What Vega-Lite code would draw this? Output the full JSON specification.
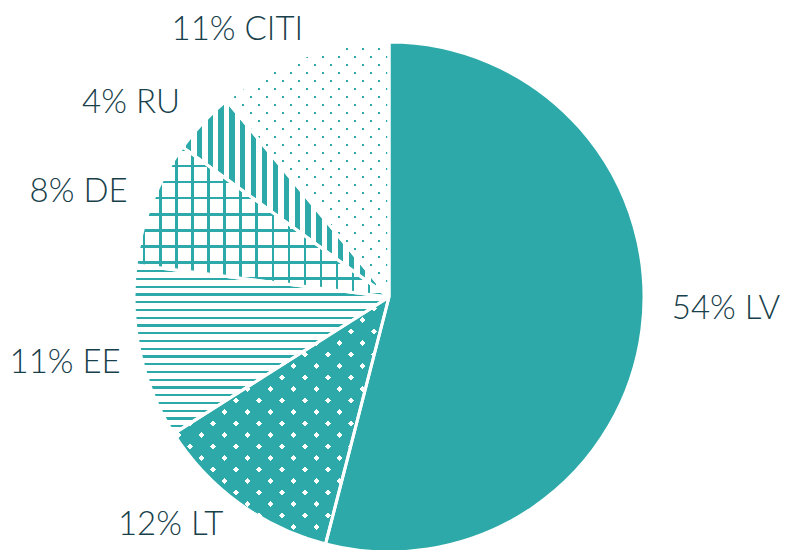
{
"$schema": "https://vega.github.io/schema/vega-lite/v6.json",
"width": 778, "height": 594, "padding": {"left": 0, "top": 0, "right": 14, "bottom": 0}, "autosize": {"type": "none"},
"background": "#ffffff",
"config": {"view": {"stroke": null}, "text": {"font": "Lato", "fontSize": 33, "fontWeight": 300, "color": "#17404a", "baseline": "middle", "radius": 280}},
"data": {"values": [
 {"label": "LV", "pct": 54, "order": 1, "name": "54% LV"},
 {"label": "LT", "pct": 12, "order": 2, "name": "12% LT"},
 {"label": "EE", "pct": 11, "order": 3, "name": "11% EE"},
 {"label": "DE", "pct": 8, "order": 4, "name": "8% DE"},
 {"label": "RU", "pct": 4, "order": 5, "name": "4% RU"},
 {"label": "CITI", "pct": 11, "order": 6, "name": "11% CITI"}
]},
"transform": [{"stack": "pct", "groupby": [], "sort": [{"field": "order", "order": "ascending"}], "as": ["start", "end"]}],
"layer": [
 {"mark": {"type": "arc", "outerRadius": 255},
  "encoding": {"theta": {"field": "start", "type": "quantitative", "scale": {"domain": [0, 100]}}, "theta2": {"field": "end"},
   "color": {"field": "label", "type": "nominal", "scale": {"domain": ["LV", "LT", "EE", "DE", "RU", "CITI"], "range": ["#2ca9a8", "#ffffff", "#ffffff", "#ffffff", "#ffffff", "#2ca9a8"]}, "legend": null}}},
 {"transform": [{"filter": "datum.label == 'EE'"}],
  "mark": {"type": "arc", "outerRadius": 255, "fill": {"gradient": "linear", "x1": 0, "y1": 0, "x2": 0, "y2": 1, "stops": [
   {"offset": 0.0297, "color": "#2ca9a800"}, {"offset": 0.0297, "color": "#2ca9a8"}, {"offset": 0.0433, "color": "#2ca9a8"}, {"offset": 0.0433, "color": "#2ca9a800"},
   {"offset": 0.0756, "color": "#2ca9a800"}, {"offset": 0.0756, "color": "#2ca9a8"}, {"offset": 0.0893, "color": "#2ca9a8"}, {"offset": 0.0893, "color": "#2ca9a800"},
   {"offset": 0.1216, "color": "#2ca9a800"}, {"offset": 0.1216, "color": "#2ca9a8"}, {"offset": 0.1352, "color": "#2ca9a8"}, {"offset": 0.1352, "color": "#2ca9a800"},
   {"offset": 0.1676, "color": "#2ca9a800"}, {"offset": 0.1676, "color": "#2ca9a8"}, {"offset": 0.1812, "color": "#2ca9a8"}, {"offset": 0.1812, "color": "#2ca9a800"},
   {"offset": 0.2135, "color": "#2ca9a800"}, {"offset": 0.2135, "color": "#2ca9a8"}, {"offset": 0.2272, "color": "#2ca9a8"}, {"offset": 0.2272, "color": "#2ca9a800"},
   {"offset": 0.2595, "color": "#2ca9a800"}, {"offset": 0.2595, "color": "#2ca9a8"}, {"offset": 0.2731, "color": "#2ca9a8"}, {"offset": 0.2731, "color": "#2ca9a800"},
   {"offset": 0.3055, "color": "#2ca9a800"}, {"offset": 0.3055, "color": "#2ca9a8"}, {"offset": 0.3191, "color": "#2ca9a8"}, {"offset": 0.3191, "color": "#2ca9a800"},
   {"offset": 0.3514, "color": "#2ca9a800"}, {"offset": 0.3514, "color": "#2ca9a8"}, {"offset": 0.3651, "color": "#2ca9a8"}, {"offset": 0.3651, "color": "#2ca9a800"},
   {"offset": 0.3974, "color": "#2ca9a800"}, {"offset": 0.3974, "color": "#2ca9a8"}, {"offset": 0.4110, "color": "#2ca9a8"}, {"offset": 0.4110, "color": "#2ca9a800"},
   {"offset": 0.4434, "color": "#2ca9a800"}, {"offset": 0.4434, "color": "#2ca9a8"}, {"offset": 0.4570, "color": "#2ca9a8"}, {"offset": 0.4570, "color": "#2ca9a800"},
   {"offset": 0.4893, "color": "#2ca9a800"}, {"offset": 0.4893, "color": "#2ca9a8"}, {"offset": 0.5030, "color": "#2ca9a8"}, {"offset": 0.5030, "color": "#2ca9a800"},
   {"offset": 0.5353, "color": "#2ca9a800"}, {"offset": 0.5353, "color": "#2ca9a8"}, {"offset": 0.5489, "color": "#2ca9a8"}, {"offset": 0.5489, "color": "#2ca9a800"},
   {"offset": 0.5813, "color": "#2ca9a800"}, {"offset": 0.5813, "color": "#2ca9a8"}, {"offset": 0.5949, "color": "#2ca9a8"}, {"offset": 0.5949, "color": "#2ca9a800"},
   {"offset": 0.6272, "color": "#2ca9a800"}, {"offset": 0.6272, "color": "#2ca9a8"}, {"offset": 0.6409, "color": "#2ca9a8"}, {"offset": 0.6409, "color": "#2ca9a800"},
   {"offset": 0.6732, "color": "#2ca9a800"}, {"offset": 0.6732, "color": "#2ca9a8"}, {"offset": 0.6868, "color": "#2ca9a8"}, {"offset": 0.6868, "color": "#2ca9a800"},
   {"offset": 0.7192, "color": "#2ca9a800"}, {"offset": 0.7192, "color": "#2ca9a8"}, {"offset": 0.7328, "color": "#2ca9a8"}, {"offset": 0.7328, "color": "#2ca9a800"},
   {"offset": 0.7651, "color": "#2ca9a800"}, {"offset": 0.7651, "color": "#2ca9a8"}, {"offset": 0.7788, "color": "#2ca9a8"}, {"offset": 0.7788, "color": "#2ca9a800"},
   {"offset": 0.8111, "color": "#2ca9a800"}, {"offset": 0.8111, "color": "#2ca9a8"}, {"offset": 0.8247, "color": "#2ca9a8"}, {"offset": 0.8247, "color": "#2ca9a800"},
   {"offset": 0.8571, "color": "#2ca9a800"}, {"offset": 0.8571, "color": "#2ca9a8"}, {"offset": 0.8707, "color": "#2ca9a8"}, {"offset": 0.8707, "color": "#2ca9a800"},
   {"offset": 0.9030, "color": "#2ca9a800"}, {"offset": 0.9030, "color": "#2ca9a8"}, {"offset": 0.9167, "color": "#2ca9a8"}, {"offset": 0.9167, "color": "#2ca9a800"},
   {"offset": 0.9490, "color": "#2ca9a800"}, {"offset": 0.9490, "color": "#2ca9a8"}, {"offset": 0.9626, "color": "#2ca9a8"}, {"offset": 0.9626, "color": "#2ca9a800"},
   {"offset": 0.9950, "color": "#2ca9a800"}, {"offset": 0.9950, "color": "#2ca9a8"}, {"offset": 1, "color": "#2ca9a8"}
  ]}},
  "encoding": {"theta": {"field": "start", "type": "quantitative", "scale": {"domain": [0, 100]}}, "theta2": {"field": "end"}}},
 {"transform": [{"filter": "datum.label == 'DE'"}],
  "mark": {"type": "arc", "outerRadius": 255, "fill": {"gradient": "linear", "x1": 0, "y1": 0, "x2": 1, "y2": 0, "stops": [
   {"offset": 0.0283, "color": "#2ca9a800"}, {"offset": 0.0283, "color": "#2ca9a8"}, {"offset": 0.0374, "color": "#2ca9a8"}, {"offset": 0.0374, "color": "#2ca9a800"},
   {"offset": 0.0917, "color": "#2ca9a800"}, {"offset": 0.0917, "color": "#2ca9a8"}, {"offset": 0.1008, "color": "#2ca9a8"}, {"offset": 0.1008, "color": "#2ca9a800"},
   {"offset": 0.1551, "color": "#2ca9a800"}, {"offset": 0.1551, "color": "#2ca9a8"}, {"offset": 0.1642, "color": "#2ca9a8"}, {"offset": 0.1642, "color": "#2ca9a800"},
   {"offset": 0.2186, "color": "#2ca9a800"}, {"offset": 0.2186, "color": "#2ca9a8"}, {"offset": 0.2277, "color": "#2ca9a8"}, {"offset": 0.2277, "color": "#2ca9a800"},
   {"offset": 0.2820, "color": "#2ca9a800"}, {"offset": 0.2820, "color": "#2ca9a8"}, {"offset": 0.2911, "color": "#2ca9a8"}, {"offset": 0.2911, "color": "#2ca9a800"},
   {"offset": 0.3455, "color": "#2ca9a800"}, {"offset": 0.3455, "color": "#2ca9a8"}, {"offset": 0.3546, "color": "#2ca9a8"}, {"offset": 0.3546, "color": "#2ca9a800"},
   {"offset": 0.4089, "color": "#2ca9a800"}, {"offset": 0.4089, "color": "#2ca9a8"}, {"offset": 0.4180, "color": "#2ca9a8"}, {"offset": 0.4180, "color": "#2ca9a800"},
   {"offset": 0.4723, "color": "#2ca9a800"}, {"offset": 0.4723, "color": "#2ca9a8"}, {"offset": 0.4814, "color": "#2ca9a8"}, {"offset": 0.4814, "color": "#2ca9a800"},
   {"offset": 0.5358, "color": "#2ca9a800"}, {"offset": 0.5358, "color": "#2ca9a8"}, {"offset": 0.5449, "color": "#2ca9a8"}, {"offset": 0.5449, "color": "#2ca9a800"},
   {"offset": 0.5992, "color": "#2ca9a800"}, {"offset": 0.5992, "color": "#2ca9a8"}, {"offset": 0.6083, "color": "#2ca9a8"}, {"offset": 0.6083, "color": "#2ca9a800"},
   {"offset": 0.6627, "color": "#2ca9a800"}, {"offset": 0.6627, "color": "#2ca9a8"}, {"offset": 0.6718, "color": "#2ca9a8"}, {"offset": 0.6718, "color": "#2ca9a800"},
   {"offset": 0.7261, "color": "#2ca9a800"}, {"offset": 0.7261, "color": "#2ca9a8"}, {"offset": 0.7352, "color": "#2ca9a8"}, {"offset": 0.7352, "color": "#2ca9a800"},
   {"offset": 0.7895, "color": "#2ca9a800"}, {"offset": 0.7895, "color": "#2ca9a8"}, {"offset": 0.7986, "color": "#2ca9a8"}, {"offset": 0.7986, "color": "#2ca9a800"},
   {"offset": 0.8530, "color": "#2ca9a800"}, {"offset": 0.8530, "color": "#2ca9a8"}, {"offset": 0.8621, "color": "#2ca9a8"}, {"offset": 0.8621, "color": "#2ca9a800"},
   {"offset": 0.9164, "color": "#2ca9a800"}, {"offset": 0.9164, "color": "#2ca9a8"}, {"offset": 0.9255, "color": "#2ca9a8"}, {"offset": 0.9255, "color": "#2ca9a800"},
   {"offset": 0.9798, "color": "#2ca9a800"}, {"offset": 0.9798, "color": "#2ca9a8"}, {"offset": 0.9889, "color": "#2ca9a8"}, {"offset": 0.9889, "color": "#2ca9a800"}
  ]}},
  "encoding": {"theta": {"field": "start", "type": "quantitative", "scale": {"domain": [0, 100]}}, "theta2": {"field": "end"}}},
 {"transform": [{"filter": "datum.label == 'DE'"}],
  "mark": {"type": "arc", "outerRadius": 255, "fill": {"gradient": "linear", "x1": 0, "y1": 0, "x2": 0, "y2": 1, "stops": [
   {"offset": 0.0127, "color": "#2ca9a800"}, {"offset": 0.0127, "color": "#2ca9a8"}, {"offset": 0.0280, "color": "#2ca9a8"}, {"offset": 0.0280, "color": "#2ca9a800"},
   {"offset": 0.1198, "color": "#2ca9a800"}, {"offset": 0.1198, "color": "#2ca9a8"}, {"offset": 0.1351, "color": "#2ca9a8"}, {"offset": 0.1351, "color": "#2ca9a800"},
   {"offset": 0.2268, "color": "#2ca9a800"}, {"offset": 0.2268, "color": "#2ca9a8"}, {"offset": 0.2422, "color": "#2ca9a8"}, {"offset": 0.2422, "color": "#2ca9a800"},
   {"offset": 0.3339, "color": "#2ca9a800"}, {"offset": 0.3339, "color": "#2ca9a8"}, {"offset": 0.3492, "color": "#2ca9a8"}, {"offset": 0.3492, "color": "#2ca9a800"},
   {"offset": 0.4410, "color": "#2ca9a800"}, {"offset": 0.4410, "color": "#2ca9a8"}, {"offset": 0.4563, "color": "#2ca9a8"}, {"offset": 0.4563, "color": "#2ca9a800"},
   {"offset": 0.5480, "color": "#2ca9a800"}, {"offset": 0.5480, "color": "#2ca9a8"}, {"offset": 0.5634, "color": "#2ca9a8"}, {"offset": 0.5634, "color": "#2ca9a800"},
   {"offset": 0.6551, "color": "#2ca9a800"}, {"offset": 0.6551, "color": "#2ca9a8"}, {"offset": 0.6705, "color": "#2ca9a8"}, {"offset": 0.6705, "color": "#2ca9a800"},
   {"offset": 0.7622, "color": "#2ca9a800"}, {"offset": 0.7622, "color": "#2ca9a8"}, {"offset": 0.7775, "color": "#2ca9a8"}, {"offset": 0.7775, "color": "#2ca9a800"},
   {"offset": 0.8693, "color": "#2ca9a800"}, {"offset": 0.8693, "color": "#2ca9a8"}, {"offset": 0.8846, "color": "#2ca9a8"}, {"offset": 0.8846, "color": "#2ca9a800"},
   {"offset": 0.9763, "color": "#2ca9a800"}, {"offset": 0.9763, "color": "#2ca9a8"}, {"offset": 0.9917, "color": "#2ca9a8"}, {"offset": 0.9917, "color": "#2ca9a800"}
  ]}},
  "encoding": {"theta": {"field": "start", "type": "quantitative", "scale": {"domain": [0, 100]}}, "theta2": {"field": "end"}}},
 {"transform": [{"filter": "datum.label == 'RU'"}],
  "mark": {"type": "arc", "outerRadius": 255, "fill": {"gradient": "linear", "x1": 0, "y1": 0, "x2": 1, "y2": 0, "stops": [
   {"offset": 0.0152, "color": "#2ca9a800"}, {"offset": 0.0152, "color": "#2ca9a8"}, {"offset": 0.0409, "color": "#2ca9a8"}, {"offset": 0.0409, "color": "#2ca9a800"},
   {"offset": 0.0679, "color": "#2ca9a800"}, {"offset": 0.0679, "color": "#2ca9a8"}, {"offset": 0.0935, "color": "#2ca9a8"}, {"offset": 0.0935, "color": "#2ca9a800"},
   {"offset": 0.1205, "color": "#2ca9a800"}, {"offset": 0.1205, "color": "#2ca9a8"}, {"offset": 0.1462, "color": "#2ca9a8"}, {"offset": 0.1462, "color": "#2ca9a800"},
   {"offset": 0.1732, "color": "#2ca9a800"}, {"offset": 0.1732, "color": "#2ca9a8"}, {"offset": 0.1989, "color": "#2ca9a8"}, {"offset": 0.1989, "color": "#2ca9a800"},
   {"offset": 0.2259, "color": "#2ca9a800"}, {"offset": 0.2259, "color": "#2ca9a8"}, {"offset": 0.2516, "color": "#2ca9a8"}, {"offset": 0.2516, "color": "#2ca9a800"},
   {"offset": 0.2786, "color": "#2ca9a800"}, {"offset": 0.2786, "color": "#2ca9a8"}, {"offset": 0.3043, "color": "#2ca9a8"}, {"offset": 0.3043, "color": "#2ca9a800"},
   {"offset": 0.3313, "color": "#2ca9a800"}, {"offset": 0.3313, "color": "#2ca9a8"}, {"offset": 0.3570, "color": "#2ca9a8"}, {"offset": 0.3570, "color": "#2ca9a800"},
   {"offset": 0.3840, "color": "#2ca9a800"}, {"offset": 0.3840, "color": "#2ca9a8"}, {"offset": 0.4097, "color": "#2ca9a8"}, {"offset": 0.4097, "color": "#2ca9a800"},
   {"offset": 0.4367, "color": "#2ca9a800"}, {"offset": 0.4367, "color": "#2ca9a8"}, {"offset": 0.4624, "color": "#2ca9a8"}, {"offset": 0.4624, "color": "#2ca9a800"},
   {"offset": 0.4894, "color": "#2ca9a800"}, {"offset": 0.4894, "color": "#2ca9a8"}, {"offset": 0.5151, "color": "#2ca9a8"}, {"offset": 0.5151, "color": "#2ca9a800"},
   {"offset": 0.5421, "color": "#2ca9a800"}, {"offset": 0.5421, "color": "#2ca9a8"}, {"offset": 0.5678, "color": "#2ca9a8"}, {"offset": 0.5678, "color": "#2ca9a800"},
   {"offset": 0.5948, "color": "#2ca9a800"}, {"offset": 0.5948, "color": "#2ca9a8"}, {"offset": 0.6205, "color": "#2ca9a8"}, {"offset": 0.6205, "color": "#2ca9a800"},
   {"offset": 0.6475, "color": "#2ca9a800"}, {"offset": 0.6475, "color": "#2ca9a8"}, {"offset": 0.6732, "color": "#2ca9a8"}, {"offset": 0.6732, "color": "#2ca9a800"},
   {"offset": 0.7002, "color": "#2ca9a800"}, {"offset": 0.7002, "color": "#2ca9a8"}, {"offset": 0.7259, "color": "#2ca9a8"}, {"offset": 0.7259, "color": "#2ca9a800"},
   {"offset": 0.7529, "color": "#2ca9a800"}, {"offset": 0.7529, "color": "#2ca9a8"}, {"offset": 0.7786, "color": "#2ca9a8"}, {"offset": 0.7786, "color": "#2ca9a800"},
   {"offset": 0.8056, "color": "#2ca9a800"}, {"offset": 0.8056, "color": "#2ca9a8"}, {"offset": 0.8313, "color": "#2ca9a8"}, {"offset": 0.8313, "color": "#2ca9a800"},
   {"offset": 0.8583, "color": "#2ca9a800"}, {"offset": 0.8583, "color": "#2ca9a8"}, {"offset": 0.8840, "color": "#2ca9a8"}, {"offset": 0.8840, "color": "#2ca9a800"},
   {"offset": 0.9110, "color": "#2ca9a800"}, {"offset": 0.9110, "color": "#2ca9a8"}, {"offset": 0.9367, "color": "#2ca9a8"}, {"offset": 0.9367, "color": "#2ca9a800"},
   {"offset": 0.9637, "color": "#2ca9a800"}, {"offset": 0.9637, "color": "#2ca9a8"}, {"offset": 0.9894, "color": "#2ca9a8"}, {"offset": 0.9894, "color": "#2ca9a800"}
  ]}},
  "encoding": {"theta": {"field": "start", "type": "quantitative", "scale": {"domain": [0, 100]}}, "theta2": {"field": "end"}}},
 {"transform": [{"filter": "datum.label == 'LT'"}],
  "mark": {"type": "arc", "outerRadius": 255, "fill": {"gradient": "linear", "x1": 0, "y1": 0, "x2": 0.92708, "y2": 1.06358, "stops": [
   {"offset": 0.2522, "color": "#2ca9a8"}, {"offset": 0.2522, "color": "#2ca9a800"}, {"offset": 0.2652, "color": "#2ca9a800"}, {"offset": 0.2652, "color": "#2ca9a8"},
   {"offset": 0.3020, "color": "#2ca9a8"}, {"offset": 0.3020, "color": "#2ca9a800"}, {"offset": 0.3149, "color": "#2ca9a800"}, {"offset": 0.3149, "color": "#2ca9a8"},
   {"offset": 0.3517, "color": "#2ca9a8"}, {"offset": 0.3517, "color": "#2ca9a800"}, {"offset": 0.3647, "color": "#2ca9a800"}, {"offset": 0.3647, "color": "#2ca9a8"},
   {"offset": 0.4015, "color": "#2ca9a8"}, {"offset": 0.4015, "color": "#2ca9a800"}, {"offset": 0.4144, "color": "#2ca9a800"}, {"offset": 0.4144, "color": "#2ca9a8"},
   {"offset": 0.4512, "color": "#2ca9a8"}, {"offset": 0.4512, "color": "#2ca9a800"}, {"offset": 0.4642, "color": "#2ca9a800"}, {"offset": 0.4642, "color": "#2ca9a8"},
   {"offset": 0.5010, "color": "#2ca9a8"}, {"offset": 0.5010, "color": "#2ca9a800"}, {"offset": 0.5139, "color": "#2ca9a800"}, {"offset": 0.5139, "color": "#2ca9a8"},
   {"offset": 0.5507, "color": "#2ca9a8"}, {"offset": 0.5507, "color": "#2ca9a800"}, {"offset": 0.5637, "color": "#2ca9a800"}, {"offset": 0.5637, "color": "#2ca9a8"},
   {"offset": 0.6005, "color": "#2ca9a8"}, {"offset": 0.6005, "color": "#2ca9a800"}, {"offset": 0.6134, "color": "#2ca9a800"}, {"offset": 0.6134, "color": "#2ca9a8"},
   {"offset": 0.6502, "color": "#2ca9a8"}, {"offset": 0.6502, "color": "#2ca9a800"}, {"offset": 0.6632, "color": "#2ca9a800"}, {"offset": 0.6632, "color": "#2ca9a8"},
   {"offset": 0.7000, "color": "#2ca9a8"}, {"offset": 0.7000, "color": "#2ca9a800"}, {"offset": 0.7129, "color": "#2ca9a800"}, {"offset": 0.7129, "color": "#2ca9a8"},
   {"offset": 0.7497, "color": "#2ca9a8"}, {"offset": 0.7497, "color": "#2ca9a800"}, {"offset": 0.7627, "color": "#2ca9a800"}, {"offset": 0.7627, "color": "#2ca9a8"},
   {"offset": 0.7995, "color": "#2ca9a8"}, {"offset": 0.7995, "color": "#2ca9a800"}, {"offset": 0.8125, "color": "#2ca9a800"}, {"offset": 0.8125, "color": "#2ca9a8"},
   {"offset": 0.8492, "color": "#2ca9a8"}, {"offset": 0.8492, "color": "#2ca9a800"}, {"offset": 0.8622, "color": "#2ca9a800"}, {"offset": 0.8622, "color": "#2ca9a8"},
   {"offset": 0.8990, "color": "#2ca9a8"}, {"offset": 0.8990, "color": "#2ca9a800"}, {"offset": 0.9120, "color": "#2ca9a800"}, {"offset": 0.9120, "color": "#2ca9a8"}
  ]}},
  "encoding": {"theta": {"field": "start", "type": "quantitative", "scale": {"domain": [0, 100]}}, "theta2": {"field": "end"}}},
 {"transform": [{"filter": "datum.label == 'LT'"}],
  "mark": {"type": "arc", "outerRadius": 255, "fill": {"gradient": "linear", "x1": 0, "y1": 1, "x2": 0.92708, "y2": -0.06358, "stops": [
   {"offset": 0.1904, "color": "#2ca9a8"}, {"offset": 0.1904, "color": "#2ca9a800"}, {"offset": 0.2033, "color": "#2ca9a800"}, {"offset": 0.2033, "color": "#2ca9a8"},
   {"offset": 0.2401, "color": "#2ca9a8"}, {"offset": 0.2401, "color": "#2ca9a800"}, {"offset": 0.2531, "color": "#2ca9a800"}, {"offset": 0.2531, "color": "#2ca9a8"},
   {"offset": 0.2899, "color": "#2ca9a8"}, {"offset": 0.2899, "color": "#2ca9a800"}, {"offset": 0.3028, "color": "#2ca9a800"}, {"offset": 0.3028, "color": "#2ca9a8"},
   {"offset": 0.3396, "color": "#2ca9a8"}, {"offset": 0.3396, "color": "#2ca9a800"}, {"offset": 0.3526, "color": "#2ca9a800"}, {"offset": 0.3526, "color": "#2ca9a8"},
   {"offset": 0.3894, "color": "#2ca9a8"}, {"offset": 0.3894, "color": "#2ca9a800"}, {"offset": 0.4023, "color": "#2ca9a800"}, {"offset": 0.4023, "color": "#2ca9a8"},
   {"offset": 0.4391, "color": "#2ca9a8"}, {"offset": 0.4391, "color": "#2ca9a800"}, {"offset": 0.4521, "color": "#2ca9a800"}, {"offset": 0.4521, "color": "#2ca9a8"},
   {"offset": 0.4889, "color": "#2ca9a8"}, {"offset": 0.4889, "color": "#2ca9a800"}, {"offset": 0.5018, "color": "#2ca9a800"}, {"offset": 0.5018, "color": "#2ca9a8"},
   {"offset": 0.5386, "color": "#2ca9a8"}, {"offset": 0.5386, "color": "#2ca9a800"}, {"offset": 0.5516, "color": "#2ca9a800"}, {"offset": 0.5516, "color": "#2ca9a8"},
   {"offset": 0.5884, "color": "#2ca9a8"}, {"offset": 0.5884, "color": "#2ca9a800"}, {"offset": 0.6013, "color": "#2ca9a800"}, {"offset": 0.6013, "color": "#2ca9a8"},
   {"offset": 0.6381, "color": "#2ca9a8"}, {"offset": 0.6381, "color": "#2ca9a800"}, {"offset": 0.6511, "color": "#2ca9a800"}, {"offset": 0.6511, "color": "#2ca9a8"},
   {"offset": 0.6879, "color": "#2ca9a8"}, {"offset": 0.6879, "color": "#2ca9a800"}, {"offset": 0.7008, "color": "#2ca9a800"}, {"offset": 0.7008, "color": "#2ca9a8"},
   {"offset": 0.7376, "color": "#2ca9a8"}, {"offset": 0.7376, "color": "#2ca9a800"}, {"offset": 0.7506, "color": "#2ca9a800"}, {"offset": 0.7506, "color": "#2ca9a8"},
   {"offset": 0.7874, "color": "#2ca9a8"}, {"offset": 0.7874, "color": "#2ca9a800"}, {"offset": 0.8003, "color": "#2ca9a800"}, {"offset": 0.8003, "color": "#2ca9a8"},
   {"offset": 0.8371, "color": "#2ca9a8"}, {"offset": 0.8371, "color": "#2ca9a800"}, {"offset": 0.8501, "color": "#2ca9a800"}, {"offset": 0.8501, "color": "#2ca9a8"},
   {"offset": 0.8869, "color": "#2ca9a8"}, {"offset": 0.8869, "color": "#2ca9a800"}, {"offset": 0.8998, "color": "#2ca9a800"}, {"offset": 0.8998, "color": "#2ca9a8"},
   {"offset": 0.9366, "color": "#2ca9a8"}, {"offset": 0.9366, "color": "#2ca9a800"}, {"offset": 0.9496, "color": "#2ca9a800"}, {"offset": 0.9496, "color": "#2ca9a8"},
   {"offset": 0.9864, "color": "#2ca9a8"}, {"offset": 0.9864, "color": "#2ca9a800"}, {"offset": 0.9994, "color": "#2ca9a800"}, {"offset": 0.9994, "color": "#2ca9a8"}
  ]}},
  "encoding": {"theta": {"field": "start", "type": "quantitative", "scale": {"domain": [0, 100]}}, "theta2": {"field": "end"}}},
 {"transform": [{"filter": "datum.label == 'CITI'"}],
  "mark": {"type": "arc", "outerRadius": 255, "fill": {"gradient": "linear", "x1": 0, "y1": 0, "x2": 0.74202, "y2": 1.1644, "stops": [
   {"offset": 0.1476, "color": "#ffffff"}, {"offset": 0.1476, "color": "#ffffff00"}, {"offset": 0.1566, "color": "#ffffff00"}, {"offset": 0.1566, "color": "#ffffff"},
   {"offset": 0.1859, "color": "#ffffff"}, {"offset": 0.1859, "color": "#ffffff00"}, {"offset": 0.1949, "color": "#ffffff00"}, {"offset": 0.1949, "color": "#ffffff"},
   {"offset": 0.2242, "color": "#ffffff"}, {"offset": 0.2242, "color": "#ffffff00"}, {"offset": 0.2332, "color": "#ffffff00"}, {"offset": 0.2332, "color": "#ffffff"},
   {"offset": 0.2626, "color": "#ffffff"}, {"offset": 0.2626, "color": "#ffffff00"}, {"offset": 0.2716, "color": "#ffffff00"}, {"offset": 0.2716, "color": "#ffffff"},
   {"offset": 0.3009, "color": "#ffffff"}, {"offset": 0.3009, "color": "#ffffff00"}, {"offset": 0.3099, "color": "#ffffff00"}, {"offset": 0.3099, "color": "#ffffff"},
   {"offset": 0.3392, "color": "#ffffff"}, {"offset": 0.3392, "color": "#ffffff00"}, {"offset": 0.3482, "color": "#ffffff00"}, {"offset": 0.3482, "color": "#ffffff"},
   {"offset": 0.3775, "color": "#ffffff"}, {"offset": 0.3775, "color": "#ffffff00"}, {"offset": 0.3865, "color": "#ffffff00"}, {"offset": 0.3865, "color": "#ffffff"},
   {"offset": 0.4159, "color": "#ffffff"}, {"offset": 0.4159, "color": "#ffffff00"}, {"offset": 0.4249, "color": "#ffffff00"}, {"offset": 0.4249, "color": "#ffffff"},
   {"offset": 0.4542, "color": "#ffffff"}, {"offset": 0.4542, "color": "#ffffff00"}, {"offset": 0.4632, "color": "#ffffff00"}, {"offset": 0.4632, "color": "#ffffff"},
   {"offset": 0.4925, "color": "#ffffff"}, {"offset": 0.4925, "color": "#ffffff00"}, {"offset": 0.5015, "color": "#ffffff00"}, {"offset": 0.5015, "color": "#ffffff"},
   {"offset": 0.5308, "color": "#ffffff"}, {"offset": 0.5308, "color": "#ffffff00"}, {"offset": 0.5398, "color": "#ffffff00"}, {"offset": 0.5398, "color": "#ffffff"},
   {"offset": 0.5692, "color": "#ffffff"}, {"offset": 0.5692, "color": "#ffffff00"}, {"offset": 0.5782, "color": "#ffffff00"}, {"offset": 0.5782, "color": "#ffffff"},
   {"offset": 0.6075, "color": "#ffffff"}, {"offset": 0.6075, "color": "#ffffff00"}, {"offset": 0.6165, "color": "#ffffff00"}, {"offset": 0.6165, "color": "#ffffff"},
   {"offset": 0.6458, "color": "#ffffff"}, {"offset": 0.6458, "color": "#ffffff00"}, {"offset": 0.6548, "color": "#ffffff00"}, {"offset": 0.6548, "color": "#ffffff"},
   {"offset": 0.6841, "color": "#ffffff"}, {"offset": 0.6841, "color": "#ffffff00"}, {"offset": 0.6931, "color": "#ffffff00"}, {"offset": 0.6931, "color": "#ffffff"},
   {"offset": 0.7224, "color": "#ffffff"}, {"offset": 0.7224, "color": "#ffffff00"}, {"offset": 0.7314, "color": "#ffffff00"}, {"offset": 0.7314, "color": "#ffffff"},
   {"offset": 0.7608, "color": "#ffffff"}, {"offset": 0.7608, "color": "#ffffff00"}, {"offset": 0.7698, "color": "#ffffff00"}, {"offset": 0.7698, "color": "#ffffff"},
   {"offset": 0.7991, "color": "#ffffff"}, {"offset": 0.7991, "color": "#ffffff00"}, {"offset": 0.8081, "color": "#ffffff00"}, {"offset": 0.8081, "color": "#ffffff"},
   {"offset": 0.8374, "color": "#ffffff"}, {"offset": 0.8374, "color": "#ffffff00"}, {"offset": 0.8464, "color": "#ffffff00"}, {"offset": 0.8464, "color": "#ffffff"},
   {"offset": 0.8757, "color": "#ffffff"}, {"offset": 0.8757, "color": "#ffffff00"}, {"offset": 0.8847, "color": "#ffffff00"}, {"offset": 0.8847, "color": "#ffffff"},
   {"offset": 0.9141, "color": "#ffffff"}, {"offset": 0.9141, "color": "#ffffff00"}, {"offset": 0.9231, "color": "#ffffff00"}, {"offset": 0.9231, "color": "#ffffff"},
   {"offset": 0.9524, "color": "#ffffff"}, {"offset": 0.9524, "color": "#ffffff00"}, {"offset": 0.9614, "color": "#ffffff00"}, {"offset": 0.9614, "color": "#ffffff"},
   {"offset": 0.9907, "color": "#ffffff"}, {"offset": 0.9907, "color": "#ffffff00"}, {"offset": 0.9997, "color": "#ffffff00"}, {"offset": 0.9997, "color": "#ffffff"}
  ]}},
  "encoding": {"theta": {"field": "start", "type": "quantitative", "scale": {"domain": [0, 100]}}, "theta2": {"field": "end"}}},
 {"transform": [{"filter": "datum.label == 'CITI'"}],
  "mark": {"type": "arc", "outerRadius": 255, "fill": {"gradient": "linear", "x1": 0, "y1": 1, "x2": 0.74202, "y2": -0.1644, "stops": [
   {"offset": 0.3416, "color": "#ffffff"}, {"offset": 0.3416, "color": "#ffffff00"}, {"offset": 0.3506, "color": "#ffffff00"}, {"offset": 0.3506, "color": "#ffffff"},
   {"offset": 0.3799, "color": "#ffffff"}, {"offset": 0.3799, "color": "#ffffff00"}, {"offset": 0.3889, "color": "#ffffff00"}, {"offset": 0.3889, "color": "#ffffff"},
   {"offset": 0.4183, "color": "#ffffff"}, {"offset": 0.4183, "color": "#ffffff00"}, {"offset": 0.4273, "color": "#ffffff00"}, {"offset": 0.4273, "color": "#ffffff"},
   {"offset": 0.4566, "color": "#ffffff"}, {"offset": 0.4566, "color": "#ffffff00"}, {"offset": 0.4656, "color": "#ffffff00"}, {"offset": 0.4656, "color": "#ffffff"},
   {"offset": 0.4949, "color": "#ffffff"}, {"offset": 0.4949, "color": "#ffffff00"}, {"offset": 0.5039, "color": "#ffffff00"}, {"offset": 0.5039, "color": "#ffffff"},
   {"offset": 0.5332, "color": "#ffffff"}, {"offset": 0.5332, "color": "#ffffff00"}, {"offset": 0.5422, "color": "#ffffff00"}, {"offset": 0.5422, "color": "#ffffff"},
   {"offset": 0.5716, "color": "#ffffff"}, {"offset": 0.5716, "color": "#ffffff00"}, {"offset": 0.5806, "color": "#ffffff00"}, {"offset": 0.5806, "color": "#ffffff"},
   {"offset": 0.6099, "color": "#ffffff"}, {"offset": 0.6099, "color": "#ffffff00"}, {"offset": 0.6189, "color": "#ffffff00"}, {"offset": 0.6189, "color": "#ffffff"},
   {"offset": 0.6482, "color": "#ffffff"}, {"offset": 0.6482, "color": "#ffffff00"}, {"offset": 0.6572, "color": "#ffffff00"}, {"offset": 0.6572, "color": "#ffffff"},
   {"offset": 0.6865, "color": "#ffffff"}, {"offset": 0.6865, "color": "#ffffff00"}, {"offset": 0.6955, "color": "#ffffff00"}, {"offset": 0.6955, "color": "#ffffff"},
   {"offset": 0.7248, "color": "#ffffff"}, {"offset": 0.7248, "color": "#ffffff00"}, {"offset": 0.7338, "color": "#ffffff00"}, {"offset": 0.7338, "color": "#ffffff"},
   {"offset": 0.7632, "color": "#ffffff"}, {"offset": 0.7632, "color": "#ffffff00"}, {"offset": 0.7722, "color": "#ffffff00"}, {"offset": 0.7722, "color": "#ffffff"},
   {"offset": 0.8015, "color": "#ffffff"}, {"offset": 0.8015, "color": "#ffffff00"}, {"offset": 0.8105, "color": "#ffffff00"}, {"offset": 0.8105, "color": "#ffffff"},
   {"offset": 0.8398, "color": "#ffffff"}, {"offset": 0.8398, "color": "#ffffff00"}, {"offset": 0.8488, "color": "#ffffff00"}, {"offset": 0.8488, "color": "#ffffff"},
   {"offset": 0.8781, "color": "#ffffff"}, {"offset": 0.8781, "color": "#ffffff00"}, {"offset": 0.8871, "color": "#ffffff00"}, {"offset": 0.8871, "color": "#ffffff"},
   {"offset": 0.9165, "color": "#ffffff"}, {"offset": 0.9165, "color": "#ffffff00"}, {"offset": 0.9255, "color": "#ffffff00"}, {"offset": 0.9255, "color": "#ffffff"},
   {"offset": 0.9548, "color": "#ffffff"}, {"offset": 0.9548, "color": "#ffffff00"}, {"offset": 0.9638, "color": "#ffffff00"}, {"offset": 0.9638, "color": "#ffffff"},
   {"offset": 0.9931, "color": "#ffffff"}, {"offset": 0.9931, "color": "#ffffff00"}, {"offset": 1, "color": "#ffffff00"}
  ]}},
  "encoding": {"theta": {"field": "start", "type": "quantitative", "scale": {"domain": [0, 100]}}, "theta2": {"field": "end"}}},
 {"mark": {"type": "arc", "outerRadius": 255, "fillOpacity": 0, "stroke": "#ffffff", "strokeWidth": 3, "strokeJoin": "bevel"},
  "encoding": {"theta": {"field": "start", "type": "quantitative", "scale": {"domain": [0, 100]}}, "theta2": {"field": "end"}}},
 {"mark": {"type": "text", "align": "left", "dx": 5, "dy": -23},
  "encoding": {"theta": {"field": "pct", "type": "quantitative", "stack": true, "scale": {"domain": [0, 100]}}, "order": {"field": "order", "type": "quantitative"},
   "text": {"condition": {"test": "datum.label == 'LV'", "field": "name"}, "value": ""}}},
 {"mark": {"type": "text", "align": "right", "dx": -1, "dy": 1},
  "encoding": {"theta": {"field": "pct", "type": "quantitative", "stack": true, "scale": {"domain": [0, 100]}}, "order": {"field": "order", "type": "quantitative"},
   "text": {"condition": {"test": "datum.label == 'LT'", "field": "name"}, "value": ""}}},
 {"mark": {"type": "text", "align": "right", "dx": 5, "dy": 5},
  "encoding": {"theta": {"field": "pct", "type": "quantitative", "stack": true, "scale": {"domain": [0, 100]}}, "order": {"field": "order", "type": "quantitative"},
   "text": {"condition": {"test": "datum.label == 'EE'", "field": "name"}, "value": ""}}},
 {"mark": {"type": "text", "align": "right", "dx": -1, "dy": -2},
  "encoding": {"theta": {"field": "pct", "type": "quantitative", "stack": true, "scale": {"domain": [0, 100]}}, "order": {"field": "order", "type": "quantitative"},
   "text": {"condition": {"test": "datum.label == 'DE'", "field": "name"}, "value": ""}}},
 {"mark": {"type": "text", "align": "right", "dx": -5, "dy": -2},
  "encoding": {"theta": {"field": "pct", "type": "quantitative", "stack": true, "scale": {"domain": [0, 100]}}, "order": {"field": "order", "type": "quantitative"},
   "text": {"condition": {"test": "datum.label == 'RU'", "field": "name"}, "value": ""}}},
 {"mark": {"type": "text", "align": "right", "dx": 9, "dy": -4},
  "encoding": {"theta": {"field": "pct", "type": "quantitative", "stack": true, "scale": {"domain": [0, 100]}}, "order": {"field": "order", "type": "quantitative"},
   "text": {"condition": {"test": "datum.label == 'CITI'", "field": "name"}, "value": ""}}}
]
}
